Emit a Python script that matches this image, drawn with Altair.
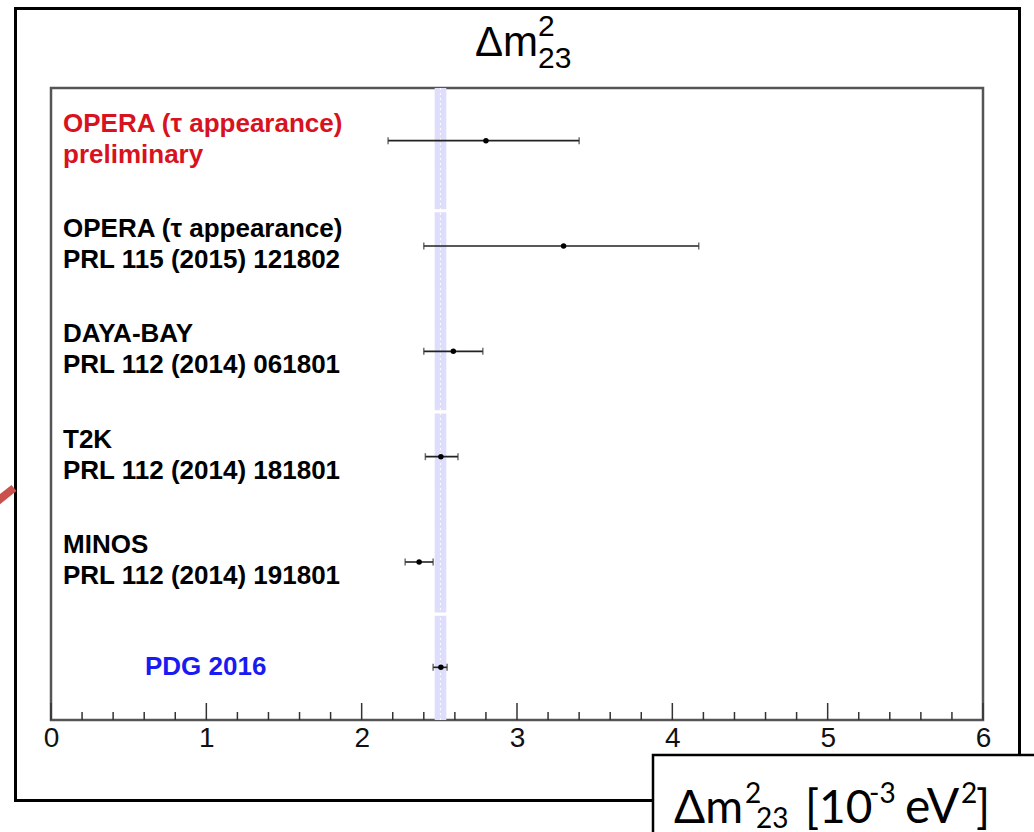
import altair as alt
import pandas as pd

# ---- data ----
line1 = ["OPERA (τ appearance)", "OPERA (τ appearance)", "DAYA-BAY", "T2K", "MINOS"]
line2 = ["preliminary", "PRL 115 (2015) 121802", "PRL 112 (2014) 061801",
         "PRL 112 (2014) 181801", "PRL 112 (2014) 191801"]
label_colors = ["#d8121e", "#000000", "#000000", "#000000", "#000000"]
label_rows = [5.5, 4.5, 3.5, 2.5, 1.5]

pdg_label = "PDG 2016"
pdg_row = 0.5

rows = [5.5, 4.5, 3.5, 2.5, 1.5, 0.5]
central = [2.80, 3.30, 2.59, 2.51, 2.37, 2.51]
low = [2.17, 2.40, 2.40, 2.41, 2.28, 2.46]
high = [3.40, 4.17, 2.78, 2.62, 2.46, 2.55]

band_lo = 2.47
band_hi = 2.545
band_mid = 2.507
band_seg_start = [0.0, 1.02, 2.94, 4.85]
band_seg_end = [0.99, 2.91, 4.82, 6.0]

major_ticks = [0, 1, 2, 3, 4, 5, 6]
minor_ticks = [0.2, 0.4, 0.6, 0.8, 1.2, 1.4, 1.6, 1.8, 2.2, 2.4, 2.6, 2.8,
               3.2, 3.4, 3.6, 3.8, 4.2, 4.4, 4.6, 4.8, 5.2, 5.4, 5.6, 5.8]

# ---- layout ----
W, H = 932, 632
PL, PT = 51, 88
FONT = "Liberation Sans"

xs = alt.Scale(domain=[0, 6], nice=False, zero=False)
ys = alt.Scale(domain=[0, 6], nice=False, zero=False)
AX = alt.Axis(values=major_ticks, format="d", ticks=False, domain=False,
              grid=False, labelFontSize=28, labelFont=FONT, labelFlush=False,
              labelColor="#111", labelPadding=4, title=None)

meas = pd.DataFrame({"row": rows, "c": central, "lo": low, "hi": high})
labs = pd.DataFrame({"l1": line1, "l2": line2, "col": label_colors, "row": label_rows})
band = pd.DataFrame({"s": band_seg_start, "e": band_seg_end,
                     "a": [band_lo] * 4, "b": [band_hi] * 4})
one = pd.DataFrame({"k": [0]})

# outer frame
frame = alt.Chart(one).mark_rect(fill=None, stroke="#000", strokeWidth=3).encode(
    x=alt.value(15.5 - PL), x2=alt.value(1019.5 - PL),
    y=alt.value(8.5 - PT), y2=alt.value(800.5 - PT))

# PDG band
band_rect = alt.Chart(band).mark_rect(color="#dedefc").encode(
    x=alt.X("a:Q", scale=xs, axis=AX), x2="b:Q",
    y=alt.Y("s:Q", scale=ys, axis=None), y2="e:Q")
band_line = alt.Chart(pd.DataFrame({"m": [band_mid]})).mark_rule(
    color="white", strokeWidth=1, strokeDash=[2, 3]).encode(
    x=alt.X("m:Q", scale=xs, axis=AX), y=alt.value(0), y2=alt.value(H))

# error bars
bars = alt.Chart(meas).mark_rule(color="#222", strokeWidth=1.6).encode(
    x=alt.X("lo:Q", scale=xs, axis=AX), x2="hi:Q",
    y=alt.Y("row:Q", scale=ys, axis=None))
cap_lo = alt.Chart(meas).mark_tick(orient="vertical", color="#333", size=7, thickness=1.5).encode(
    x=alt.X("lo:Q", scale=xs, axis=AX), y=alt.Y("row:Q", scale=ys, axis=None))
cap_hi = alt.Chart(meas).mark_tick(orient="vertical", color="#333", size=7, thickness=1.5).encode(
    x=alt.X("hi:Q", scale=xs, axis=AX), y=alt.Y("row:Q", scale=ys, axis=None))
pts = alt.Chart(meas).mark_circle(color="#000", size=30, opacity=1).encode(
    x=alt.X("c:Q", scale=xs, axis=AX), y=alt.Y("row:Q", scale=ys, axis=None))

# labels
t1 = alt.Chart(labs).mark_text(align="left", baseline="alphabetic", dy=-9,
                               font=FONT, fontSize=26, fontWeight="bold").encode(
    x=alt.value(12), y=alt.Y("row:Q", scale=ys, axis=None),
    text="l1:N", color=alt.Color("col:N", scale=None))
t2 = alt.Chart(labs).mark_text(align="left", baseline="alphabetic", dy=22,
                               font=FONT, fontSize=26, fontWeight="bold").encode(
    x=alt.value(12), y=alt.Y("row:Q", scale=ys, axis=None),
    text="l2:N", color=alt.Color("col:N", scale=None))
tp = alt.Chart(pd.DataFrame({"t": [pdg_label], "row": [pdg_row]})).mark_text(
    align="left", baseline="middle", font=FONT, fontSize=26, fontWeight="bold",
    color="#1a1af2").encode(
    x=alt.value(94), y=alt.Y("row:Q", scale=ys, axis=None), text="t:N")

# axis ticks (pointing inward)
tmaj = alt.Chart(pd.DataFrame({"t": major_ticks})).mark_rule(color="#333", strokeWidth=1.5).encode(
    x=alt.X("t:Q", scale=xs, axis=AX), y=alt.value(H), y2=alt.value(H - 17))
tmin = alt.Chart(pd.DataFrame({"t": minor_ticks})).mark_rule(color="#333", strokeWidth=1.5).encode(
    x=alt.X("t:Q", scale=xs, axis=AX), y=alt.value(H), y2=alt.value(H - 8))


def txt(s, x, y, size, font=FONT, weight="normal"):
    return alt.Chart(one).mark_text(text=s, align="left", baseline="alphabetic",
                                    font=font, fontSize=size, fontWeight=weight,
                                    color="#000").encode(
        x=alt.value(x - PL), y=alt.value(y - PT))


# title  Δm^2_23
title = [txt("Δm", 475, 56, 42), txt("2", 538, 36, 30), txt("23", 538, 68, 30)]

# x-axis title box  Δm^2_23 [10^-3 eV^2]
box = alt.Chart(one).mark_rect(fill="white", stroke="#000", strokeWidth=2.5).encode(
    x=alt.value(653 - PL), x2=alt.value(1060 - PL),
    y=alt.value(755 - PT), y2=alt.value(860 - PT))
LF = "Lato"
xtitle = [txt("Δm", 674, 823, 46, LF), txt("2", 745, 803, 28, LF), txt("23", 756, 828, 28, LF),
          txt("[10", 805, 823, 46, LF), txt("-3", 869, 803, 28, LF),
          txt("eV", 905, 823, 48, LF), txt("2", 961, 803, 28, LF), txt("]", 976, 823, 46, LF)]

# red arrow tip at the left edge
arrow = alt.Chart(one).mark_rule(color="#c9534c", strokeWidth=8).encode(
    x=alt.value(-6 - PL), x2=alt.value(14 - PL), y=alt.value(504 - PT), y2=alt.value(488 - PT))

chart = alt.layer(
    frame, band_rect, band_line, bars, cap_lo, cap_hi, pts, t1, t2, tp, tmaj, tmin,
    *title, box, *xtitle, arrow
).properties(
    width=W, height=H,
    autosize=alt.AutoSizeParams(type="none"),
    padding={"left": PL, "top": PT, "right": 1034 - PL - W, "bottom": 832 - PT - H},
    background="white",
).configure_view(stroke="#555", strokeWidth=2.5)

chart.save("out.html", embed_options={"renderer": "svg", "actions": False})
